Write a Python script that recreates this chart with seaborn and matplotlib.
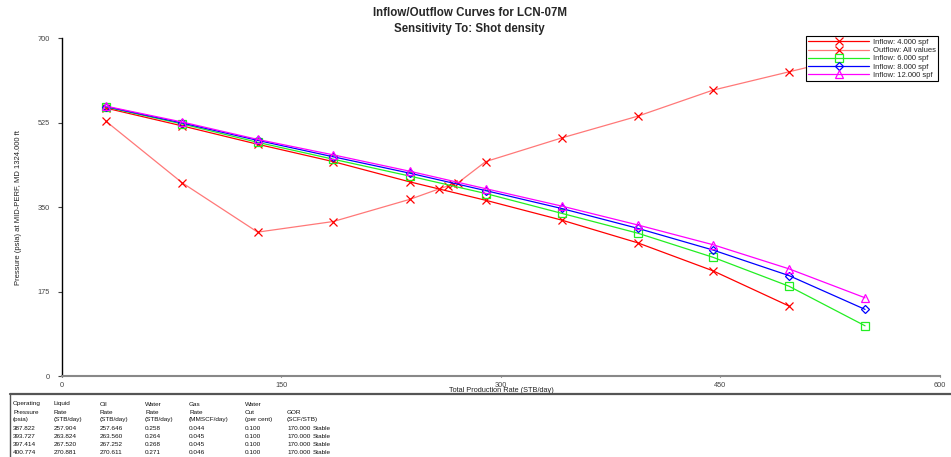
import numpy as np
import pandas as pd
import matplotlib
matplotlib.use("Agg")
import matplotlib.pyplot as plt
import seaborn as sns

# rates shared by the inflow curves (STB/day)
rate = [29.9, 82.2, 133.7, 185.4, 237.8, 289.5, 341.4, 393.3, 444.8, 496.8, 548.8]

# inflow pressures (psia)
p_4spf = [555, 518, 480, 444, 402, 364, 323, 276, 218, 145]
p_6spf = [557, 522, 484, 449, 414, 378, 337, 296, 246, 186, 104]
p_8spf = [558, 524, 488, 454, 420, 384, 347, 306, 261, 208, 138]
p_12spf = [559, 526, 490, 458, 424, 388, 352, 313, 272, 222, 162]

# outflow curve, operating points included
out_rate = [29.9, 82.2, 133.7, 185.4, 237.8, 257.904, 263.824, 267.520, 270.881,
            289.5, 341.4, 393.3, 444.8, 496.8, 548.8]
out_p = [528, 400, 298, 320, 366, 387.822, 393.727, 397.414, 400.774,
         444, 493, 538, 592, 630, 668]

# operating points table
op_pressure = ["387.822", "393.727", "397.414", "400.774"]
liquid_rate = ["257.904", "263.824", "267.520", "270.881"]
oil_rate = ["257.646", "263.560", "267.252", "270.611"]
water_rate = ["0.258", "0.264", "0.268", "0.271"]
gas_rate = ["0.044", "0.045", "0.045", "0.046"]
water_cut = ["0.100", "0.100", "0.100", "0.100"]
gor = ["170.000", "170.000", "170.000", "170.000"]

sns.set_style("white")
plt.rcParams['font.family'] = ['Liberation Sans', 'DejaVu Sans']

fig = plt.figure(figsize=(9.51, 4.57), dpi=100)
ax = fig.add_axes([0.0652, 0.1772, 0.9232, 0.7396])

series = [
    ("Inflow: 4.000 spf", rate[:len(p_4spf)], p_4spf, "#FF0000", "x", 6),
    ("Outflow: All values", out_rate, out_p, "#FF7878", "x", 6),
    ("Inflow: 6.000 spf", rate, p_6spf, "#22EE22", "s", 5.5),
    ("Inflow: 8.000 spf", rate, p_8spf, "#0000FF", "D", 4),
    ("Inflow: 12.000 spf", rate, p_12spf, "#FF00FF", "^", 6),
]

for name, xs, ys, col, mk, ms in series:
    df = pd.DataFrame({"rate": xs, "p": ys})
    mec = "#FF0000" if name.startswith("Outflow") else col
    sns.lineplot(data=df, x="rate", y="p", ax=ax, color=col, lw=0.9, sort=False,
                 marker=mk, markersize=ms, markerfacecolor="none",
                 markeredgecolor=mec, markeredgewidth=0.9, label=name)

ax.set_xlim(0, 600)
ax.set_ylim(0, 700)
ax.set_xticks([0, 150, 300, 450, 600])
ax.set_yticks([0, 175, 350, 525, 700])
ax.tick_params(axis="both", labelsize=5.3, colors="#444444", width=0.8,
               direction="out", left=True, bottom=True)
ax.tick_params(axis="y", length=3, pad=6)
ax.tick_params(axis="x", length=1, pad=3)
for s in ["top", "right"]:
    ax.spines[s].set_visible(False)
ax.spines["left"].set_color("black")
ax.spines["bottom"].set_color("#888888")
ax.spines["left"].set_linewidth(1.0)
ax.spines["bottom"].set_linewidth(1.5)

ax.set_xlabel("Total Production Rate (STB/day)", fontsize=5.3, color="#222222", labelpad=-1)
ax.set_ylabel("Pressure (psia) at MID-PERF, MD 1324.000 ft", fontsize=5.5, color="#222222", labelpad=11)

leg = ax.legend(loc="upper right", bbox_to_anchor=(0.998, 1.005), fontsize=5.5, frameon=True,
                fancybox=False, edgecolor="black", framealpha=1, handlelength=8,
                borderaxespad=0.0, labelspacing=0.12, borderpad=0.3, handletextpad=0.5)
leg.get_frame().set_linewidth(0.8)

fig.text(0.494, 0.984, "Inflow/Outflow Curves for LCN-07M\nSensitivity To: Shot density",
         ha="center", va="top", fontsize=8.3, fontweight="bold", linespacing=1.4)

# operating table below the plot
fig.add_artist(plt.Line2D([10 / 951, 1.0], [1 - 394 / 457] * 2, color="#555555", lw=1.6))
fig.add_artist(plt.Line2D([10 / 951] * 2, [0, 1 - 394 / 457], color="#555555", lw=1.0))

col_x = [13, 54, 100, 145, 189, 245, 287]
headers = [
    ["Operating", "Pressure", "(psia)"],
    ["Liquid", "Rate", "(STB/day)"],
    ["Oil", "Rate", "(STB/day)"],
    ["Water", "Rate", "(STB/day)"],
    ["Gas", "Rate", "(MMSCF/day)"],
    ["Water", "Cut", "(per cent)"],
    ["", "GOR", "(SCF/STB)"],
]
cols = [op_pressure, liquid_rate, oil_rate, water_rate, gas_rate, water_cut, gor]
row_y = [404, 412, 420, 429, 437, 445, 453]
for cx, head, vals in zip(col_x, headers, cols):
    for ry, t in zip(row_y, head + vals):
        fig.text(cx / 951, 1 - ry / 457, t, fontsize=4.6, va="center", ha="left", color="#111111")
for ry in row_y[3:]:
    fig.text(313 / 951, 1 - ry / 457, "Stable", fontsize=4.6, va="center", ha="left", color="#111111")

fig.savefig("out.png", dpi=100)
